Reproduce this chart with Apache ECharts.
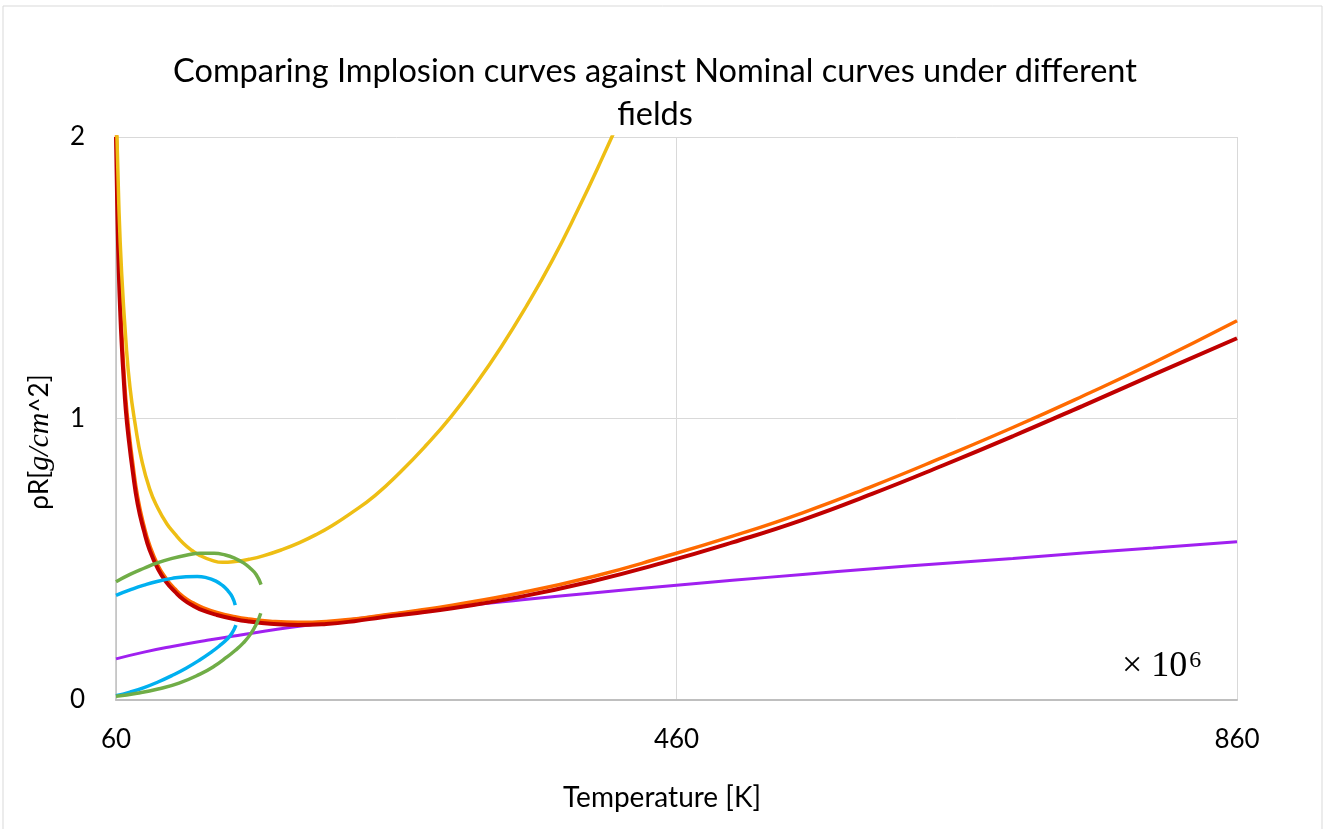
<!DOCTYPE html>
<html>
<head>
<meta charset="utf-8">
<script src="https://cdn.jsdelivr.net/npm/echarts@6/dist/echarts.min.js"></script>
<style>
  html, body { margin: 0; padding: 0; background: #fff; }
  #chart { width: 1330px; height: 829px; }
</style>
</head>
<body>
<div id="chart"></div>
<script>
// axis ticks
const tempTicks = [60, 460, 860]
const rhoRTicks = [0, 1, 2]

// red curve
const redTemp = [60, 61, 62, 63, 64, 65.5, 67, 69, 72, 75.5, 80, 84, 90, 96, 102, 108, 115, 122, 132, 145, 155, 170, 190, 210, 230, 250, 275, 300, 350, 400, 450, 500, 550, 600, 650, 700, 750, 800, 860]
const redRhoR = [2.0, 1.72, 1.52, 1.38, 1.27, 1.14, 1.03, 0.93, 0.81, 0.695, 0.6, 0.533, 0.465, 0.418, 0.385, 0.357, 0.335, 0.318, 0.302, 0.287, 0.279, 0.271, 0.266, 0.27, 0.28, 0.294, 0.309, 0.326, 0.368, 0.422, 0.487, 0.56, 0.64, 0.733, 0.833, 0.937, 1.045, 1.155, 1.285]

// orange curve
const orangeTemp = [60, 61, 62, 63, 64, 65.5, 67, 69, 72, 75.5, 80, 84, 90, 96, 102, 108, 115, 122, 132, 145, 155, 170, 190, 210, 230, 250, 275, 300, 350, 400, 450, 500, 550, 600, 650, 700, 750, 800, 860]
const orangeRhoR = [2.12, 1.8, 1.58, 1.43, 1.32, 1.18, 1.07, 0.965, 0.84, 0.72, 0.618, 0.55, 0.478, 0.43, 0.395, 0.367, 0.345, 0.328, 0.311, 0.296, 0.288, 0.28, 0.276, 0.279, 0.288, 0.301, 0.318, 0.337, 0.382, 0.438, 0.507, 0.582, 0.665, 0.76, 0.862, 0.968, 1.08, 1.197, 1.347]

// yellow curve
const yellowTemp = [60, 62, 64, 67, 70, 74, 78, 84, 90, 96, 102, 108, 114, 120, 128, 136, 145, 155, 165, 179, 191, 203, 215, 227, 245, 263, 281, 299, 317, 335, 353, 371, 389, 407, 425]
const yellowRhoR = [2.12, 1.76, 1.52, 1.28, 1.11, 0.97, 0.86, 0.75, 0.68, 0.628, 0.59, 0.557, 0.532, 0.513, 0.497, 0.489, 0.492, 0.5, 0.512, 0.535, 0.559, 0.588, 0.622, 0.661, 0.727, 0.81, 0.903, 1.006, 1.124, 1.255, 1.4, 1.558, 1.735, 1.925, 2.125]

// purple curve
const purpleTemp = [60, 80, 100, 125, 150, 175, 200, 250, 300, 350, 400, 460, 500, 550, 600, 650, 700, 750, 800, 860]
const purpleRhoR = [0.146, 0.17, 0.19, 0.212, 0.232, 0.251, 0.268, 0.30, 0.33, 0.356, 0.38, 0.408, 0.425, 0.446, 0.466, 0.485, 0.503, 0.522, 0.54, 0.562]

// blue curve, two branches
const blueUpperTemp = [60, 70, 80, 90, 100, 110, 118, 125, 131, 136, 140, 143, 145.1]
const blueUpperRhoR = [0.372, 0.391, 0.408, 0.422, 0.432, 0.438, 0.439, 0.434, 0.423, 0.407, 0.387, 0.366, 0.337]
const blueLowerTemp = [60, 70, 80, 90, 100, 110, 120, 128, 134, 139, 142.6, 145.6]
const blueLowerRhoR = [0.015, 0.028, 0.044, 0.064, 0.087, 0.113, 0.143, 0.17, 0.193, 0.215, 0.236, 0.266]

// green curve, two branches
const greenUpperTemp = [60, 70, 80, 90, 100, 110, 120, 130, 138, 145, 151, 156, 160, 163.5]
const greenUpperRhoR = [0.42, 0.446, 0.468, 0.488, 0.503, 0.514, 0.521, 0.521, 0.515, 0.503, 0.487, 0.467, 0.446, 0.41]
const greenLowerTemp = [60, 75, 90, 105, 120, 130, 139, 145, 150.9, 156, 160.4, 163.3]
const greenLowerRhoR = [0.013, 0.024, 0.039, 0.06, 0.092, 0.12, 0.152, 0.176, 0.203, 0.234, 0.272, 0.308]

const zip = (xs, ys) => xs.map((x, i) => [x, ys[i]])

const curve = (name, xs, ys, color, width) => ({
  name,
  type: 'line',
  data: zip(xs, ys),
  smooth: 0.5,
  showSymbol: false,
  clip: true,
  lineStyle: { color, width },
  itemStyle: { color },
  emphasis: { disabled: true }
})

const chart = echarts.init(document.getElementById('chart'))

const option = {
  animation: false,
  grid: { left: 116, right: 93, top: 137, bottom: 129 },
  graphic: [
    {
      type: 'rect',
      shape: { x: 3, y: 6, width: 1319, height: 840 },
      style: { fill: 'none', stroke: '#D9D9D9', lineWidth: 1 },
      silent: true
    },
    {
      type: 'text',
      x: 655,
      y: 50,
      style: {
        text: 'Comparing Implosion curves against Nominal curves under different\nfields',
        font: '32.5px Lato',
        fill: '#000',
        align: 'center',
        verticalAlign: 'top',
        lineHeight: 43
      }
    },
    {
      type: 'text',
      x: 662,
      y: 798,
      style: {
        text: 'Temperature [K]',
        font: '28px Lato',
        fill: '#000',
        align: 'center',
        verticalAlign: 'middle'
      }
    },
    {
      type: 'text',
      x: 40,
      y: 442,
      rotation: Math.PI / 2,
      style: {
        text: '{n|ρR[}{i|g/cm}{n|^2]}',
        align: 'center',
        verticalAlign: 'middle',
        rich: {
          n: { font: '26px Lato', fill: '#000' },
          i: { font: 'italic 30px "Liberation Serif"', fill: '#000' }
        }
      }
    },
    {
      type: 'text',
      x: 1122,
      y: 667,
      style: {
        text: '{m|× 10}{s|6}',
        align: 'left',
        verticalAlign: 'middle',
        rich: {
          m: { font: '36px "Liberation Serif"', fill: '#000' },
          s: { font: '24px "Liberation Serif"', fill: '#000', verticalAlign: 'top', padding: [0, 0, 0, 2] }
        }
      }
    }
  ],
  xAxis: {
    type: 'value',
    min: 60,
    max: 860,
    axisLine: { show: true, lineStyle: { color: '#BFBFBF', width: 2 } },
    axisTick: { show: false, customValues: tempTicks },
    axisLabel: {
      customValues: tempTicks,
      margin: 27,
      fontFamily: 'Lato',
      fontSize: 26,
      color: '#000'
    },
    splitLine: { show: true, lineStyle: { color: '#D9D9D9', width: 1 } }
  },
  yAxis: {
    type: 'value',
    min: 0,
    max: 2,
    interval: 1,
    axisLine: { show: true, lineStyle: { color: '#BFBFBF', width: 1.5 } },
    axisTick: { show: false },
    axisLabel: {
      margin: 31,
      fontFamily: 'Lato',
      fontSize: 26,
      color: '#000'
    },
    splitLine: { show: true, lineStyle: { color: '#D9D9D9', width: 1 } }
  },
  series: [
    curve('purple', purpleTemp, purpleRhoR, '#A020F0', 3),
    curve('orange', orangeTemp, orangeRhoR, '#FF6A00', 3.5),
    curve('red', redTemp, redRhoR, '#C00000', 4),
    curve('yellow', yellowTemp, yellowRhoR, '#EEBE14', 3.5),
    curve('blue upper', blueUpperTemp, blueUpperRhoR, '#00B0F0', 3.5),
    curve('blue lower', blueLowerTemp, blueLowerRhoR, '#00B0F0', 3.5),
    curve('green upper', greenUpperTemp, greenUpperRhoR, '#70AD47', 3.5),
    curve('green lower', greenLowerTemp, greenLowerRhoR, '#70AD47', 3.5)
  ]
}

chart.setOption(option)
</script>
</body>
</html>
